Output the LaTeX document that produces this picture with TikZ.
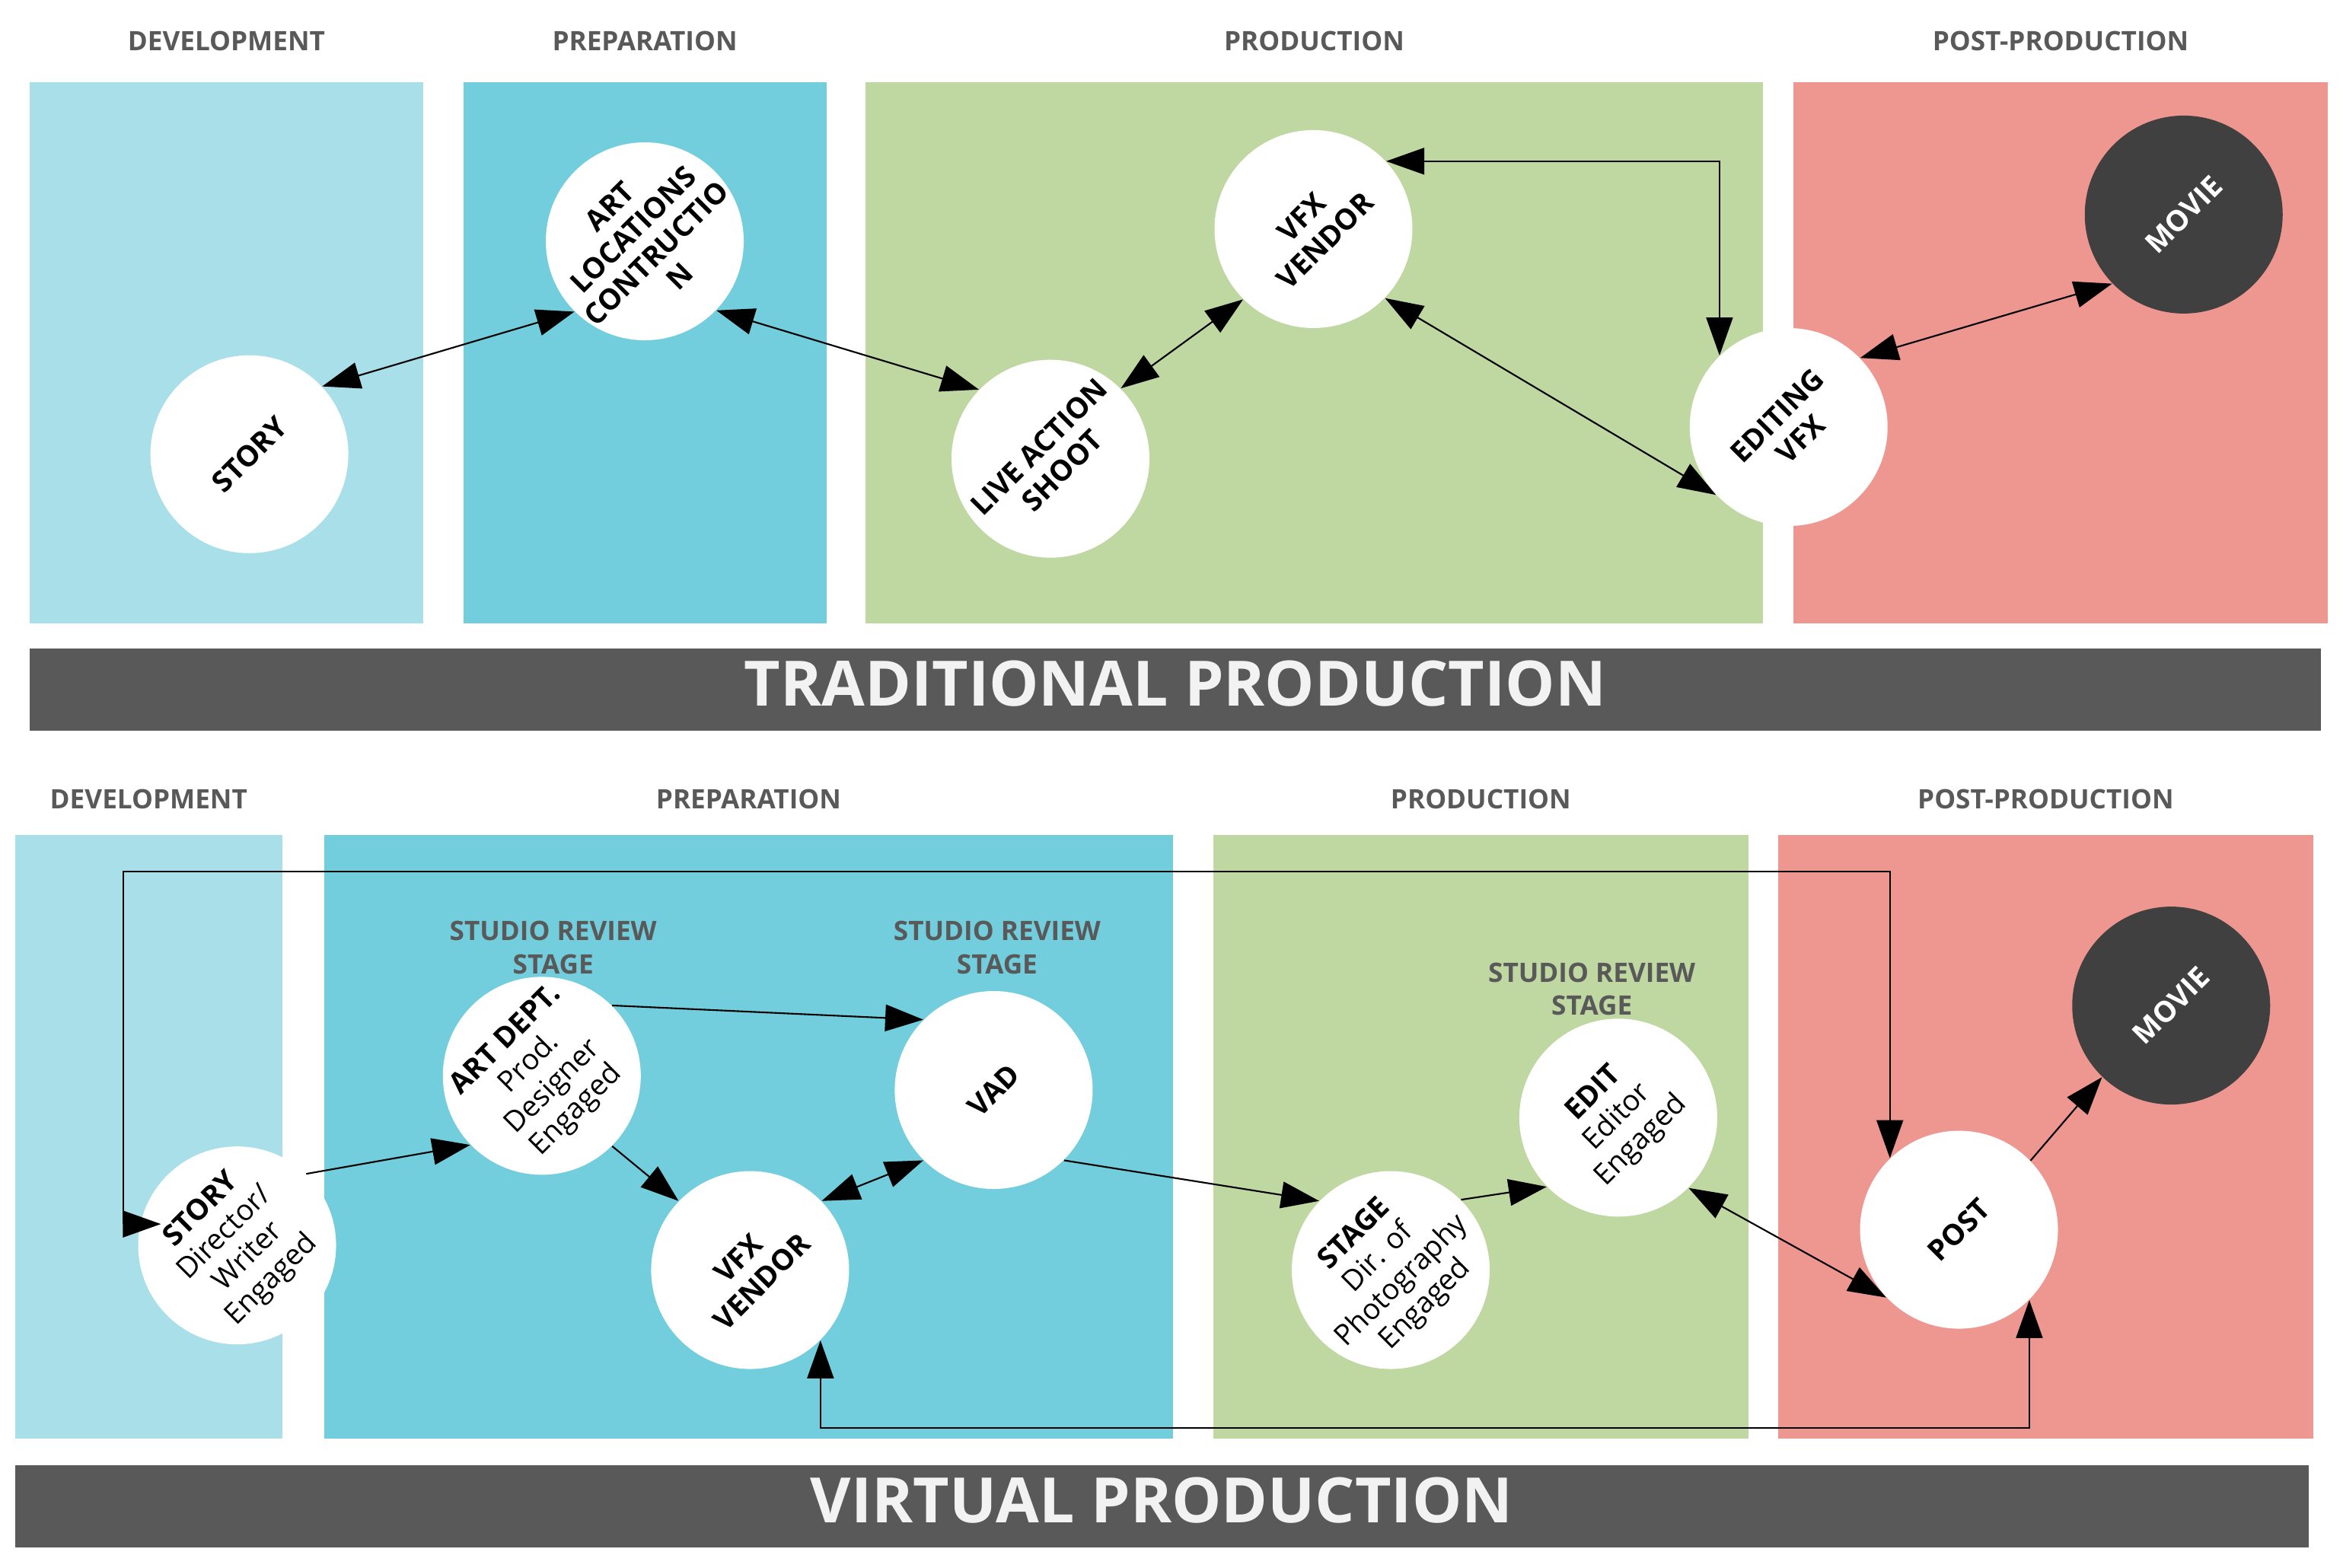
\documentclass[tikz,border=0pt]{standalone}
\usepackage{fontspec}
\setmainfont{Open Sans}
\usepackage{tikz}
\usetikzlibrary{arrows.meta, positioning, calc}
\definecolor{vpdev}{RGB}{168,223,233}
\definecolor{vpprep}{RGB}{114,205,221}
\definecolor{vpprod}{RGB}{191,215,160}
\definecolor{vppost}{RGB}{238,150,144}
\definecolor{vpband}{RGB}{89,89,89}
\definecolor{vpdark}{RGB}{64,64,64}
\definecolor{vpgray}{RGB}{89,89,89}
\definecolor{vplight}{RGB}{242,242,242}
\tikzset{
    bubble/.style={circle, fill=white, minimum size=2.6cm, inner sep=0pt},
    darkbubble/.style={bubble, fill=vpdark},
    tilt/.style={rotate=45, align=center, inner sep=0pt, font=\fontsize{10.8}{12.4}\selectfont\bfseries},
    tiltmix/.style={tilt, font=\fontsize{10.8}{12.4}\selectfont},
    darktilt/.style={tilt, text=white},
    phase/.style={font=\fontsize{10}{12}\selectfont\bfseries, text=vpgray},
    review/.style={phase, align=center, font=\fontsize{10}{12.3}\selectfont\bfseries},
    band/.style={font=\fontsize{23.4}{27}\selectfont\bfseries, text=vplight, inner sep=0pt},
    oneway/.style={-{Triangle[length=5mm, width=3.5mm]}, line width=0.6pt},
    twoway/.style={{Triangle[length=5mm, width=3.5mm]}-{Triangle[length=5mm, width=3.5mm]}, line width=0.6pt},
}

\begin{document}
\begin{tikzpicture}[x=0.19630mm, y=-0.19630mm]
    \useasboundingbox (0,0) rectangle (1568,1049);
    % traditional production
    \foreach \xa/\xb/\col/\lab [count=\i] in {20/283/vpdev/DEVELOPMENT, 310/553/vpprep/PREPARATION,
                                            579/1180/vpprod/PRODUCTION, 1200/1558/vppost/POST-PRODUCTION} {
        \fill[\col] (\xa,55) rectangle (\xb,417);
        \node[phase] (th\i) at ({(\xa+\xb)/2},27.5) {\lab};
    }
    \fill[vpband] (20,434) rectangle (1553,489);
    \node[band] (tband) at (786.5,457.5) {TRADITIONAL PRODUCTION};

    \node[bubble] (tstory) at (166.9,304) {};
    \node[bubble] (tart) at (431.5,161.5) {};
    \node[bubble] (tlive) at (703,307) {};
    \node[bubble] (tvfx) at (879,153.3) {};
    \node[bubble] (tedit) at (1197,285.8) {};
    \node[darkbubble] (tmovie) at (1461.4,143.6) {};
    \node[tilt] (tstoryl) at (tstory) {STORY};
    \node[tilt] (tartl) at (tart) {ART\\LOCATIONS\\CONTRUCTIO\\N};
    \node[tilt] (tlivel) at (tlive) {LIVE ACTION\\SHOOT};
    \node[tilt] (tvfxl) at (tvfx) {VFX\\VENDOR};
    \node[tilt] (teditl) at (tedit) {EDITING\\VFX};
    \node[darktilt] (tmoviel) at (tmovie) {MOVIE};

    \draw[twoway] (tstory.43) -- (tart.225);
    \draw[twoway] (tart.316) -- (tlive.136);
    \draw[twoway] (tlive.45) -- (tvfx.225);
    \draw[twoway] (tvfx.316) -- (tedit.223);
    \draw[twoway] (tvfx.43) -| (tedit.134);
    \draw[twoway] (tedit.44) -- (tmovie.224);

    % virtual production
    \foreach \xa/\xb/\col/\lab [count=\i] in {10/189/vpdev/DEVELOPMENT, 217/785/vpprep/PREPARATION,
                                            812/1170/vpprod/PRODUCTION, 1190/1548/vppost/POST-PRODUCTION} {
        \fill[\col] (\xa,559) rectangle (\xb,963);
        \node[phase] (vh\i) at ({(\xa+\xb)/2},535) {\lab};
    }
    \fill[vpband] (10,980.5) rectangle (1545,1035.5);
    \node[band] (vband) at (777.5,1004) {VIRTUAL PRODUCTION};

    \node[review] (rev1) at (370.2,634.2) {STUDIO REVIEW\\STAGE};
    \node[review] (rev2) at (667.3,634.2) {STUDIO REVIEW\\STAGE};
    \node[review] (rev3) at (1065.3,662) {STUDIO REVIEW\\STAGE};

    \node[bubble] (vstory) at (158.7,833.5) {};
    \node[bubble] (vart) at (362.6,720) {};
    \node[bubble] (vvad) at (665,729.5) {};
    \node[bubble] (vvfx) at (502,850) {};
    \node[bubble] (vstage) at (930.7,850) {};
    \node[bubble] (vedit) at (1083,748) {};
    \node[bubble] (vpost) at (1311,823) {};
    \node[darkbubble] (vmovie) at (1453,673) {};
    \node[tiltmix] (vstoryl) at (vstory) {\textbf{STORY}\\Director/\\Writer\\Engaged};
    \node[tiltmix] (vartl) at (vart) {\textbf{ART DEPT.}\\Prod.\\Designer\\Engaged};
    \node[tilt] (vvadl) at (vvad) {VAD};
    \node[tilt] (vvfxl) at (vvfx) {VFX\\VENDOR};
    \node[tiltmix] (vstagel) at (vstage) {\textbf{STAGE}\\Dir. of\\Photography\\Engaged};
    \node[tiltmix] (veditl) at (vedit) {\textbf{EDIT}\\Editor\\Engaged};
    \node[tilt] (vpostl) at (vpost) {POST};
    \node[darktilt] (vmoviel) at (vmovie) {MOVIE};

    \coordinate (vloop) at (82.5,583.5);
    \coordinate (vlow) at (0,955.5);
    \coordinate (vstoryin) at ($(vstory)+(-51,-14.3)$);
    \draw[twoway] (vpost.134) |- (vloop) |- (vstoryin);
    \draw[twoway] (vvfx.315) -- (vvfx.315 |- vlow) -| (vpost.315);
    \draw[oneway] (vstory.46) -- (vart.224);
    \draw[oneway] (vart.45) -- (vvad.135);
    \draw[oneway] (vart.315) -- (vvfx.136);
    \draw[twoway] (vvfx.44) -- (vvad.225);
    \draw[oneway] (vvad.315) -- (vstage.136);
    \draw[oneway] (vstage.45) -- (vedit.224);
    \draw[twoway] (vedit.315) -- (vpost.223);
    \draw[oneway] (vpost.44) -- (vmovie.226);
\end{tikzpicture}
\end{document}
